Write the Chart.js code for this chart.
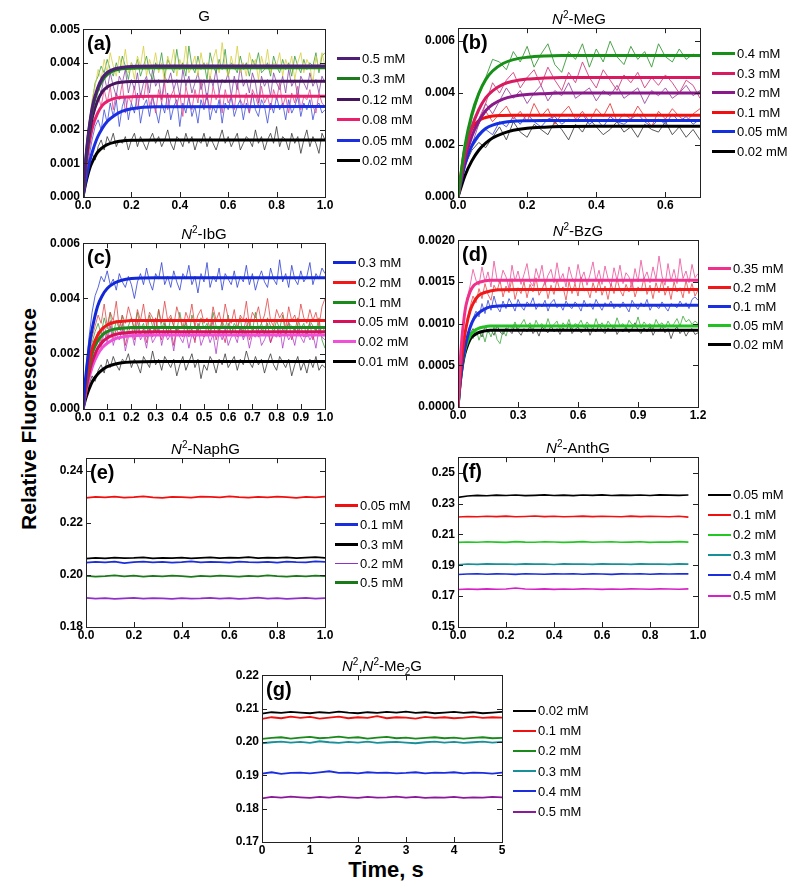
<!DOCTYPE html>
<html>
<head>
<meta charset="utf-8">
<script src="https://cdn.jsdelivr.net/npm/chart.js@4.4.1/dist/chart.umd.min.js"></script>
<style>
body { margin: 0; background: #fff; width: 800px; height: 890px; position: relative; overflow: hidden;
       font-family: "Liberation Sans", Arial, sans-serif; color: #000; }
canvas { position: absolute; }
.ttl { position: absolute; font-size: 15px; line-height: 16px; transform: translateX(-50%); white-space: nowrap; }
.ttl sup { font-size: 10px; }
.ttl sub { font-size: 10px; }
.lbl { position: absolute; font-weight: bold; font-size: 20px; line-height: 20px; }
.row { position: absolute; font-size: 13px; line-height: 16px; height: 16px; white-space: nowrap; }
.row .ln { display: inline-block; width: 23px; vertical-align: middle; margin-right: 2px; margin-top: -2px; }
#ylab { position: absolute; left: 29px; top: 419px; transform: translate(-50%, -50%) rotate(-90deg);
        font-weight: bold; font-size: 21px; white-space: nowrap; }
#xlab { position: absolute; left: 386px; top: 870px; transform: translate(-50%, -50%);
        font-weight: bold; font-size: 22px; white-space: nowrap; }
</style>
</head>
<body>
<div id="ylab">Relative Fluorescence</div>
<div id="xlab">Time, s</div>
<script>
// ==================== DATA (y in 1e-3 units unless noted) ====================
// ---- (a) G ----
const A_LABELS = ['0.5 mM', '0.3 mM', '0.12 mM', '0.08 mM', '0.05 mM', '0.02 mM'];
const A_FIT_T = [0, 0.01, 0.02, 0.03, 0.04, 0.06, 0.08, 0.1, 0.13, 0.16, 0.2, 0.3, 1.0];
const A_FIT_05 = [0, 1.01, 1.76, 2.30, 2.73, 3.24, 3.55, 3.71, 3.82, 3.86, 3.89, 3.9, 3.9];
const A_FIT_03 = [0, 0.95, 1.70, 2.25, 2.66, 3.17, 3.48, 3.65, 3.77, 3.82, 3.84, 3.85, 3.85];
const A_FIT_012 = [0, 0.90, 1.55, 2.04, 2.42, 2.86, 3.14, 3.28, 3.38, 3.42, 3.44, 3.45, 3.45];
const A_FIT_008 = [0, 0.78, 1.35, 1.77, 2.10, 2.49, 2.73, 2.85, 2.94, 2.97, 2.99, 3.0, 3.0];
const A_FIT_005 = [0, 0.45, 0.81, 1.13, 1.38, 1.78, 2.05, 2.25, 2.43, 2.55, 2.63, 2.69, 2.7];
const A_FIT_002 = [0, 0.37, 0.66, 0.90, 1.07, 1.33, 1.47, 1.56, 1.63, 1.67, 1.69, 1.7, 1.7];
const A_RAW_05 = [0, 1.3, 2.2, 2.9, 3.3, 3.8, 3.5, 4.1, 3.7, 4.3, 3.9, 3.6, 4.2, 3.8, 4.4, 3.7, 4.0, 3.5, 4.2, 3.9,
    4.5, 3.6, 4.1, 3.8, 4.3, 3.7, 4.0, 3.4, 4.2, 3.9, 4.4, 3.6, 4.1, 3.8, 4.5, 3.7, 3.9, 4.2, 3.6, 4.3,
    3.8, 4.0, 3.5, 4.1, 4.4, 3.7, 4.6, 3.9, 3.6, 4.2, 3.8, 4.5, 3.7, 4.0, 3.6, 4.3, 3.9, 4.1, 3.5, 4.2,
    3.8, 4.4, 3.7, 4.0, 3.9, 4.3, 3.6, 4.1, 3.8, 4.2, 3.5, 4.0, 4.3, 3.7, 4.1, 3.9, 3.4, 4.2, 3.8, 4.3, 3.9];
const A_RAW_03 = [0, 1.2, 2.1, 2.8, 3.4, 3.6, 3.9, 3.7, 4.1, 3.8, 3.6, 4.0, 3.7, 4.2, 3.9, 3.5, 4.0, 3.8, 4.1, 3.6,
    3.9, 4.2, 3.7, 3.5, 4.0, 3.8, 4.3, 3.6, 4.1, 3.9, 3.7, 4.4, 3.8, 4.0, 3.6, 4.5, 3.9, 3.7, 4.2, 3.8,
    4.0, 3.5, 4.3, 3.9, 3.7, 4.1, 3.8, 4.4, 3.6, 4.0, 3.9, 3.7, 4.2, 3.8, 4.0, 3.6, 4.1, 3.9, 4.3, 3.7,
    3.8, 4.0, 3.6, 4.2, 3.9, 3.7, 4.1, 3.8, 4.0, 3.6, 4.2, 3.9, 3.7, 4.1, 3.8, 4.0, 3.9, 4.3, 3.7, 4.2, 4.3];
const A_RAW_012 = [0, 1.1, 1.9, 2.6, 3.0, 3.3, 3.1, 3.6, 3.2, 3.7, 3.3, 3.0, 3.6, 3.4, 3.8, 3.1, 3.5, 3.2, 3.7, 3.0,
    3.4, 3.6, 3.1, 3.8, 3.3, 3.5, 2.9, 3.6, 3.4, 3.7, 3.2, 3.5, 3.0, 3.8, 3.3, 3.6, 3.1, 3.4, 3.7, 3.2,
    3.5, 2.9, 3.6, 3.3, 3.8, 3.1, 3.5, 3.4, 3.7, 3.0, 3.6, 3.2, 3.9, 3.3, 3.5, 3.1, 3.7, 3.4, 2.8, 3.6,
    3.3, 3.5, 3.0, 3.7, 3.4, 3.2, 3.6, 3.1, 3.8, 3.3, 3.5, 3.0, 3.6, 3.4, 3.2, 3.7, 3.3, 3.5, 3.1, 3.6, 3.4];
const A_RAW_008 = [0, 0.9, 1.7, 2.3, 2.6, 3.0, 2.7, 3.2, 2.8, 3.3, 2.6, 3.1, 2.9, 3.4, 2.5, 3.0, 2.8, 3.3, 2.6, 3.1,
    2.9, 3.5, 2.7, 3.0, 2.5, 3.2, 2.8, 3.4, 2.6, 3.0, 3.2, 2.7, 3.1, 2.4, 3.3, 2.9, 2.6, 3.2, 2.8, 3.5,
    2.7, 3.0, 2.6, 3.3, 2.9, 3.1, 2.5, 3.2, 2.8, 3.0, 2.6, 3.4, 2.9, 2.7, 3.1, 2.5, 3.2, 3.0, 2.7, 3.3,
    2.8, 3.0, 2.6, 3.2, 2.9, 3.4, 2.7, 3.0, 2.5, 3.1, 2.8, 3.3, 2.6, 3.0, 2.9, 3.2, 2.7, 2.5, 3.1, 2.8, 2.7];
const A_RAW_005 = [0, 0.6, 1.2, 1.7, 2.1, 2.3, 2.0, 2.6, 2.2, 2.8, 2.4, 2.9, 2.1, 2.7, 3.0, 2.3, 2.8, 2.5, 3.1, 2.2,
    2.7, 2.9, 2.4, 3.0, 2.6, 2.2, 2.8, 2.5, 3.1, 2.3, 2.7, 2.9, 2.1, 2.8, 2.5, 3.0, 2.4, 2.7, 2.2, 2.9,
    2.6, 3.1, 2.3, 2.7, 2.5, 2.9, 2.2, 2.8, 2.6, 3.0, 2.4, 2.7, 2.9, 2.3, 2.8, 2.5, 3.1, 2.6, 2.4, 2.9,
    2.7, 2.2, 2.8, 2.5, 3.0, 2.6, 2.8, 2.3, 2.9, 2.5, 2.7, 3.0, 2.4, 2.8, 2.6, 2.9, 2.3, 2.7, 2.8, 2.5, 2.6];
const A_RAW_002 = [0, 0.6, 1.0, 1.3, 1.1, 1.5, 1.7, 1.4, 1.8, 1.6, 1.9, 1.5, 1.7, 1.6, 1.8, 1.4, 1.7, 1.9, 1.5, 1.8,
    1.6, 1.4, 1.7, 1.9, 1.6, 1.8, 1.5, 1.7, 2.0, 1.6, 1.4, 1.8, 1.7, 1.5, 1.9, 1.6, 1.8, 1.4, 1.7, 1.6,
    1.9, 1.5, 1.8, 1.6, 1.4, 1.7, 2.0, 1.6, 1.8, 1.5, 1.7, 1.9, 1.4, 1.6, 1.8, 1.7, 1.5, 2.0, 1.6, 1.8,
    1.4, 1.7, 1.9, 1.6, 2.1, 1.5, 1.8, 1.7, 1.4, 1.9, 1.6, 1.8, 1.3, 1.7, 2.0, 1.5, 1.8, 1.6, 1.3, 1.9, 1.7];

// ---- (b) N2-MeG ----
const B_LABELS = ['0.4 mM', '0.3 mM', '0.2 mM', '0.1 mM', '0.05 mM', '0.02 mM'];
const B_FIT_T = [0, 0.02, 0.04, 0.06, 0.08, 0.1, 0.13, 0.16, 0.2, 0.25, 0.3, 0.4, 0.7];
const B_FIT_04 = [0, 1.96, 3.19, 3.98, 4.52, 4.85, 5.14, 5.29, 5.38, 5.43, 5.45, 5.45, 5.45];
const B_FIT_03 = [0, 1.66, 2.69, 3.36, 3.82, 4.09, 4.34, 4.46, 4.54, 4.58, 4.6, 4.6, 4.6];
const B_FIT_02 = [0, 1.44, 2.34, 2.92, 3.32, 3.56, 3.77, 3.88, 3.95, 3.98, 4.0, 4.0, 4.0];
const B_FIT_01 = [0, 1.86, 2.63, 2.94, 3.06, 3.12, 3.14, 3.15, 3.15, 3.15, 3.15, 3.15, 3.15];
const B_FIT_005 = [0, 1.27, 1.98, 2.39, 2.64, 2.77, 2.87, 2.92, 2.94, 2.95, 2.95, 2.95, 2.95];
const B_FIT_002 = [0, 0.82, 1.39, 1.80, 2.07, 2.27, 2.45, 2.57, 2.65, 2.69, 2.71, 2.72, 2.72];
const B_RAW_04 = [0, 1.5, 3.0, 3.9, 4.6, 5.3, 5.2, 4.9, 5.6, 5.2, 5.8, 5.0, 5.5, 5.9, 5.1, 4.8, 5.6, 5.3, 5.9, 5.0, 5.7, 5.2, 6.0, 5.4, 5.1, 5.8, 5.3, 5.6, 5.0, 5.9, 5.4, 5.2, 5.7, 5.3, 5.5, 5.4];
const B_RAW_03 = [0, 1.3, 2.4, 3.0, 3.6, 4.4, 4.0, 4.5, 4.8, 4.2, 4.6, 4.9, 4.3, 5.0, 4.5, 4.1, 4.8, 4.4, 5.2, 4.6, 4.2, 4.9, 4.5, 4.1, 4.7, 4.4, 4.8, 4.2, 4.6, 4.3, 4.7, 4.4, 4.0, 4.5, 4.3, 3.8];
const B_RAW_02 = [0, 1.1, 2.0, 2.8, 3.6, 3.2, 3.7, 4.2, 3.8, 4.1, 3.6, 4.0, 4.3, 3.7, 4.1, 3.9, 4.4, 3.8, 4.0, 4.2, 3.7, 4.1, 3.9, 4.3, 3.8, 4.0, 4.2, 3.6, 4.1, 3.9, 4.2, 3.8, 4.0, 4.3, 3.9, 4.1];
const B_RAW_01 = [0, 1.7, 2.4, 2.8, 3.3, 2.9, 3.2, 3.5, 3.0, 3.3, 2.9, 3.6, 3.1, 3.4, 2.8, 3.2, 3.5, 3.0, 3.3, 2.9, 3.4, 3.1, 3.6, 2.9, 3.2, 3.0, 3.5, 3.1, 2.7, 3.3, 3.0, 3.4, 3.1, 2.9, 3.2, 3.4];
const B_RAW_005 = [0, 1.4, 1.9, 2.3, 2.6, 2.4, 2.9, 2.7, 3.1, 2.8, 3.2, 2.9, 2.7, 3.0, 3.1, 2.8, 3.0, 2.9, 3.2, 2.8, 3.0, 2.7, 3.1, 2.9, 2.8, 3.0, 3.2, 2.9, 2.7, 3.0, 2.8, 3.2, 2.9, 3.1, 2.8, 3.0];
const B_RAW_002 = [0, 1.2, 1.8, 2.1, 1.9, 2.3, 2.7, 2.2, 2.9, 2.5, 2.3, 2.8, 2.6, 2.4, 2.9, 2.6, 2.2, 2.8, 2.5, 3.0, 2.7, 2.4, 2.6, 2.9, 2.5, 2.7, 2.3, 2.8, 2.6, 2.5, 2.9, 2.4, 2.7, 2.3, 2.6, 2.2];

// ---- (c) N2-IbG ----
const C_LABELS = ['0.3 mM', '0.2 mM', '0.1 mM', '0.05 mM', '0.02 mM', '0.01 mM'];
const C_FIT_T = [0, 0.01, 0.02, 0.03, 0.04, 0.06, 0.08, 0.1, 0.13, 0.16, 0.2, 0.3, 1.0];
const C_FIT_03 = [0, 1.05, 1.85, 2.52, 2.99, 3.71, 4.11, 4.36, 4.56, 4.66, 4.72, 4.75, 4.75];
const C_FIT_02 = [0, 0.83, 1.44, 1.89, 2.24, 2.66, 2.91, 3.04, 3.14, 3.17, 3.2, 3.2, 3.2];
const C_FIT_01 = [0, 0.77, 1.33, 1.74, 2.07, 2.45, 2.68, 2.80, 2.89, 2.92, 2.95, 2.95, 2.95];
const C_FIT_005 = [0, 0.62, 1.09, 1.48, 1.76, 2.18, 2.42, 2.57, 2.69, 2.74, 2.78, 2.8, 2.8];
const C_FIT_002 = [0, 0.53, 0.95, 1.29, 1.57, 1.96, 2.22, 2.38, 2.53, 2.60, 2.65, 2.68, 2.68];
const C_FIT_001 = [0, 0.34, 0.61, 0.83, 1.01, 1.26, 1.42, 1.53, 1.62, 1.67, 1.70, 1.72, 1.72];
const C_RAW_03 = [0, 1.5, 2.6, 3.5, 4.1, 4.4, 4.8, 4.6, 5.0, 4.5, 4.7, 4.3, 4.9, 4.6, 4.4, 4.8, 4.5, 4.0, 4.6, 4.9,
    4.5, 5.1, 4.6, 4.3, 4.9, 4.7, 5.3, 4.5, 4.8, 4.4, 5.0, 4.6, 4.3, 4.9, 4.7, 5.2, 4.5, 4.8, 4.2, 4.9,
    4.6, 5.3, 4.4, 4.8, 4.6, 5.1, 4.3, 4.9, 4.7, 4.5, 5.0, 4.4, 4.8, 4.6, 5.2, 4.5, 4.9, 4.3, 4.7, 5.0,
    4.6, 4.4, 5.1, 4.7, 4.5, 5.4, 4.6, 4.9, 4.4, 5.2, 4.7, 4.5, 5.0, 4.6, 4.8, 5.3, 4.5, 4.9, 4.7, 5.1, 4.9];
const C_RAW_02 = [0, 1.1, 2.0, 2.6, 3.0, 3.4, 3.1, 3.8, 3.0, 3.5, 3.2, 3.9, 2.9, 3.4, 3.1, 3.7, 3.3, 2.9, 3.6, 3.2,
    3.8, 3.0, 3.5, 3.3, 2.8, 3.6, 3.1, 3.9, 3.2, 3.4, 3.0, 3.7, 3.3, 2.9, 3.5, 3.2, 3.8, 3.0, 3.4, 3.6,
    3.1, 3.3, 2.9, 3.7, 3.2, 3.5, 3.0, 3.8, 3.3, 3.1, 3.6, 2.9, 3.4, 3.2, 3.9, 3.0, 3.5, 3.3, 3.7, 3.1,
    3.4, 4.0, 3.2, 3.0, 3.6, 3.3, 3.5, 2.9, 3.7, 3.2, 3.4, 3.0, 3.8, 3.3, 3.1, 3.6, 3.2, 3.5, 3.0, 3.7, 4.0];
const C_RAW_01 = [0, 1.0, 1.8, 2.4, 2.8, 3.1, 2.7, 3.3, 2.9, 3.5, 2.7, 3.2, 2.9, 3.4, 2.6, 3.0, 3.3, 2.8, 3.5, 2.9,
    3.1, 2.6, 3.4, 3.0, 2.8, 3.6, 2.9, 3.2, 2.7, 3.3, 3.0, 2.8, 3.5, 2.9, 3.1, 2.6, 3.4, 3.0, 2.8, 3.3,
    2.9, 3.1, 2.7, 3.5, 3.0, 2.8, 3.2, 2.9, 3.4, 2.7, 3.1, 2.9, 3.3, 2.6, 3.0, 3.2, 2.8, 3.5, 2.9, 3.1,
    2.7, 3.3, 3.0, 2.8, 3.2, 2.9, 3.4, 2.7, 3.1, 3.0, 2.8, 3.3, 2.9, 3.1, 2.6, 3.2, 3.0, 2.8, 3.3, 2.5, 2.2];
const C_RAW_005 = [0, 0.8, 1.5, 2.1, 2.5, 2.8, 2.4, 3.0, 2.6, 3.2, 2.5, 2.9, 2.7, 3.1, 2.3, 2.8, 3.0, 2.5, 3.2, 2.7,
    2.9, 2.4, 3.0, 2.6, 3.3, 2.8, 2.5, 3.1, 2.7, 2.9, 2.3, 3.0, 2.8, 2.6, 3.2, 2.7, 2.9, 2.4, 3.1, 2.8,
    2.6, 3.0, 2.7, 3.2, 2.5, 2.9, 2.8, 2.4, 3.1, 2.7, 3.0, 2.6, 2.9, 2.8, 3.3, 2.5, 2.8, 3.0, 2.6, 2.9,
    2.7, 3.1, 2.4, 2.8, 3.0, 2.6, 2.9, 2.7, 3.2, 2.5, 2.9, 2.7, 3.0, 2.6, 2.8, 3.1, 2.5, 2.9, 2.7, 3.0, 2.8];
const C_RAW_002 = [0, 0.7, 1.4, 1.9, 2.3, 2.6, 2.2, 2.8, 2.4, 3.0, 2.3, 2.7, 2.5, 2.9, 2.1, 2.6, 2.8, 2.3, 3.0, 2.5,
    2.7, 2.2, 2.9, 2.4, 2.6, 3.0, 2.3, 2.8, 2.5, 2.7, 2.1, 2.9, 2.6, 2.4, 2.8, 2.2, 2.7, 2.5, 3.0, 2.3,
    2.6, 2.8, 2.4, 2.7, 2.0, 2.8, 2.5, 2.9, 2.3, 2.6, 2.7, 2.4, 3.0, 2.5, 2.8, 2.2, 2.7, 2.6, 2.9, 2.3,
    2.5, 2.8, 2.4, 2.7, 2.6, 3.0, 2.2, 2.8, 2.5, 2.7, 2.3, 2.9, 2.6, 2.4, 2.8, 2.5, 2.7, 2.2, 2.9, 2.6, 2.5];
const C_RAW_001 = [0, 0.5, 0.9, 1.2, 1.0, 1.4, 1.6, 1.3, 1.8, 1.5, 1.9, 1.6, 1.4, 1.8, 1.7, 2.0, 1.5, 1.8, 1.6, 1.3,
    1.9, 1.7, 1.5, 2.1, 1.6, 1.8, 1.4, 1.9, 1.7, 1.5, 1.8, 1.2, 1.6, 1.9, 1.4, 1.7, 2.0, 1.5, 1.8, 1.1,
    1.6, 1.4, 1.9, 1.7, 1.3, 1.8, 1.6, 2.0, 1.5, 1.7, 1.9, 1.4, 1.8, 1.6, 2.1, 1.7, 1.5, 1.9, 1.6, 1.8,
    1.3, 1.7, 2.0, 1.6, 1.4, 1.9, 1.7, 1.5, 1.8, 1.2, 1.6, 1.9, 1.4, 1.7, 1.3, 1.8, 1.5, 1.9, 1.4, 1.6, 1.5];

// ---- (d) N2-BzG (y in 1e-4 units) ----
const D_LABELS = ['0.35 mM', '0.2 mM', '0.1 mM', '0.05 mM', '0.02 mM'];
const D_FIT_T = [0, 0.01, 0.02, 0.03, 0.04, 0.06, 0.08, 0.1, 0.13, 0.16, 0.2, 0.3, 1.2];
const D_FIT_035 = [0, 5.0, 8.4, 10.6, 12.2, 13.8, 14.6, 14.9, 15.1, 15.2, 15.2, 15.2, 15.2];
const D_FIT_02 = [0, 3.4, 6.1, 8.0, 9.5, 11.5, 12.6, 13.3, 13.7, 13.9, 14.05, 14.1, 14.1];
const D_FIT_01 = [0, 2.7, 4.8, 6.5, 7.7, 9.5, 10.6, 11.2, 11.7, 12.0, 12.1, 12.2, 12.2];
const D_FIT_005 = [0, 2.9, 4.9, 6.3, 7.3, 8.5, 9.1, 9.4, 9.6, 9.7, 9.7, 9.7, 9.7];
const D_FIT_002 = [0, 2.7, 4.6, 6.0, 6.9, 8.1, 8.6, 8.9, 9.1, 9.2, 9.2, 9.2, 9.2];
const D_RAW_035 = [0, 6.5, 10.5, 13.0, 14.5, 16.5, 15.2, 14.6, 16.8, 15.0, 16.2, 14.4, 17.5, 15.3, 14.8, 16.4, 15.6, 14.2, 17.0, 15.1,
    16.3, 14.7, 15.9, 17.2, 15.0, 14.5, 16.6, 15.4, 17.0, 14.6, 15.8, 16.5, 14.9, 17.3, 15.2, 16.0, 14.4, 16.8, 15.5, 14.8,
    17.1, 15.3, 16.2, 14.6, 15.9, 17.4, 15.1, 16.4, 14.7, 16.9, 15.4, 14.5, 16.7, 15.2, 17.0, 14.8, 16.1, 15.6, 14.3, 16.6,
    15.0, 17.6, 15.4, 16.2, 14.9, 16.8, 15.3, 18.1, 15.7, 14.6, 17.2, 15.1, 16.5, 14.8, 17.8, 15.4, 16.3, 14.9, 17.1, 15.5, 16.0];
const D_RAW_02 = [0, 4.5, 8.0, 10.5, 12.0, 13.3, 12.5, 14.2, 13.0, 14.8, 13.5, 12.8, 14.6, 13.9, 15.2, 13.2, 14.5, 13.7, 15.4, 12.9,
    14.3, 13.6, 15.0, 13.1, 14.7, 13.8, 15.5, 13.4, 14.1, 15.1, 13.0, 14.6, 13.5, 15.3, 13.9, 14.4, 12.8, 15.0, 13.6, 14.8,
    13.3, 15.6, 13.9, 14.2, 13.1, 14.9, 13.7, 15.2, 13.4, 14.5, 12.9, 14.8, 13.6, 15.4, 14.0, 13.3, 14.7, 13.8, 15.1, 13.2,
    14.4, 13.9, 15.5, 13.5, 14.6, 13.0, 14.9, 13.7, 15.3, 13.4, 14.5, 12.9, 15.0, 13.8, 14.3, 13.1, 15.2, 13.6, 14.8, 13.3, 14.0];
const D_RAW_01 = [0, 4.0, 6.5, 8.5, 9.8, 10.6, 11.5, 10.8, 12.4, 11.2, 12.8, 11.6, 13.3, 12.0, 11.4, 12.7, 11.8, 13.0, 12.3, 11.5,
    12.9, 12.1, 11.6, 12.6, 12.2, 13.1, 11.7, 12.4, 12.0, 12.8, 11.5, 12.5, 12.9, 11.9, 12.3, 11.6, 12.7, 12.1, 11.8, 12.6,
    12.2, 11.5, 12.8, 12.0, 12.4, 11.7, 12.9, 12.2, 11.6, 12.5, 12.1, 12.7, 11.8, 12.3, 11.9, 12.6, 12.0, 11.4, 12.8, 12.2,
    11.7, 12.5, 12.0, 12.9, 11.6, 12.3, 12.1, 11.8, 12.6, 12.0, 11.5, 12.4, 12.2, 11.9, 12.7, 12.1, 12.5, 11.8, 12.9, 13.2, 12.8];
const D_RAW_005 = [0, 4.5, 7.0, 8.4, 9.0, 8.2, 9.4, 8.0, 9.1, 7.8, 9.3, 8.4, 9.6, 8.1, 7.6, 9.2, 8.5, 9.8, 9.4, 10.2,
    9.3, 9.9, 10.5, 9.6, 10.1, 9.2, 10.4, 9.7, 10.0, 9.4, 10.6, 9.5, 9.9, 10.3, 9.2, 10.1, 9.6, 10.5, 9.3, 10.0,
    9.8, 10.4, 9.5, 10.2, 9.7, 9.3, 10.6, 9.6, 10.1, 9.4, 10.3, 9.8, 9.5, 10.7, 9.7, 10.0, 9.4, 10.4, 9.9, 9.6,
    10.8, 9.5, 10.2, 9.7, 10.0, 9.3, 10.5, 9.8, 10.1, 9.5, 10.3, 9.6, 10.0, 10.6, 9.7, 10.9, 10.2, 10.5, 9.9, 10.3, 10.0];
const D_RAW_002 = [0, 4.2, 6.8, 8.2, 8.8, 9.4, 8.6, 9.1, 8.4, 9.7, 8.9, 9.3, 8.6, 9.8, 9.0, 8.7, 9.5, 9.2, 8.8, 9.9,
    9.1, 8.6, 9.4, 9.0, 9.7, 8.8, 9.3, 8.5, 9.6, 9.2, 8.9, 9.8, 9.0, 9.4, 8.7, 9.5, 9.1, 10.0, 8.8, 9.3,
    9.6, 8.9, 9.2, 9.7, 8.6, 9.4, 9.0, 9.9, 9.2, 8.8, 9.5, 9.1, 9.8, 8.7, 9.3, 9.0, 9.6, 8.9, 9.4, 10.1,
    9.2, 8.8, 9.5, 9.0, 9.7, 8.6, 9.3, 9.1, 9.8, 8.9, 9.4, 8.2, 9.2, 9.6, 8.8, 9.3, 8.5, 9.1, 9.4, 8.7, 8.9];

// ---- (e) N2-NaphG ----
const E_LABELS = ['0.05 mM', '0.1 mM', '0.3 mM', '0.2 mM', '0.5 mM'];
const E_RAW_005 = [229.7, 230.1, 229.9, 230.2, 229.8, 230.0, 230.3, 229.9, 229.7, 230.1, 230.0, 229.8, 230.2, 230.1, 229.9, 230.3, 230.0, 229.8, 230.1, 229.9, 230.2, 230.0, 229.7, 230.1, 229.9, 230.2];
const E_RAW_01 = [204.8, 205.1, 204.9, 205.2, 204.6, 205.0, 205.2, 204.9, 205.1, 204.8, 205.0, 205.3, 204.9, 205.1, 205.0, 204.8, 205.2, 205.0, 204.9, 205.1, 204.8, 205.2, 205.0, 204.9, 205.3, 205.1];
const E_RAW_03 = [206.3, 206.6, 206.4, 206.7, 206.5, 206.6, 206.8, 206.4, 206.6, 206.5, 206.7, 206.4, 206.6, 206.8, 206.5, 206.7, 206.6, 206.9, 206.5, 206.7, 206.6, 206.8, 206.5, 206.7, 206.9, 206.6];
const E_RAW_02 = [191.2, 190.9, 191.1, 190.8, 191.0, 191.2, 190.9, 191.1, 191.0, 190.8, 191.1, 190.9, 191.0, 191.2, 190.9, 191.1, 190.8, 191.0, 191.3, 190.9, 191.1, 190.8, 191.0, 191.2, 190.9, 191.1];
const E_RAW_05 = [199.7, 199.4, 199.6, 199.9, 199.5, 199.8, 199.4, 199.7, 199.5, 199.8, 199.6, 199.3, 199.7, 199.5, 199.8, 199.6, 199.4, 199.7, 199.5, 199.9, 199.6, 199.4, 199.7, 199.5, 199.8, 199.6];

// ---- (f) N2-AnthG ----
const F_LABELS = ['0.05 mM', '0.1 mM', '0.2 mM', '0.3 mM', '0.4 mM', '0.5 mM'];
const F_RAW_005 = [234.0, 234.9, 235.3, 235.0, 235.4, 235.2, 235.5, 235.1, 235.3, 235.6, 235.2, 235.4, 235.1, 235.5, 235.3, 235.6, 235.2, 235.4, 235.3, 235.5, 235.2, 235.6, 235.4, 235.3, 235.5];
const F_RAW_01 = [221.3, 221.6, 221.4, 221.7, 221.5, 221.8, 221.4, 221.6, 221.9, 221.5, 221.7, 221.4, 221.6, 221.8, 221.5, 221.7, 221.6, 221.4, 221.8, 221.5, 221.7, 221.6, 221.4, 221.7, 221.2];
const F_RAW_02 = [204.8, 205.1, 204.9, 205.2, 205.0, 204.8, 205.3, 205.0, 204.9, 205.2, 205.1, 204.8, 205.0, 205.3, 204.9, 205.1, 205.2, 204.9, 205.0, 205.2, 204.8, 205.1, 205.0, 205.3, 205.0];
const F_RAW_03 = [190.3, 190.8, 190.6, 190.9, 190.7, 190.8, 190.6, 190.9, 190.7, 190.8, 190.5, 190.9, 190.7, 190.8, 190.6, 190.9, 190.7, 190.8, 190.6, 190.9, 190.7, 190.8, 190.6, 190.9, 190.7];
const F_RAW_04 = [184.0, 184.3, 184.5, 184.2, 184.4, 184.3, 184.1, 184.5, 184.3, 184.2, 184.4, 184.3, 184.5, 184.2, 184.4, 184.3, 184.1, 184.4, 184.3, 184.5, 184.2, 184.4, 184.3, 184.5, 184.4];
const F_RAW_05 = [174.3, 174.6, 174.4, 174.7, 174.5, 174.6, 175.3, 174.6, 174.5, 174.7, 174.4, 174.6, 174.5, 174.7, 174.6, 174.4, 174.6, 174.5, 174.7, 174.6, 174.5, 174.7, 174.6, 174.5, 174.7];

// ---- (g) N2,N2-Me2G ----
const G_LABELS = ['0.02 mM', '0.1 mM', '0.2 mM', '0.3 mM', '0.4 mM', '0.5 mM'];
const G_RAW_002 = [208.5, 208.9, 208.7, 209.0, 208.8, 208.6, 208.9, 208.7, 209.1, 208.8, 208.6, 208.9, 208.7, 209.0, 208.8, 209.1, 208.7, 208.9, 208.6, 208.8, 209.0, 208.7, 208.9, 208.6, 208.8, 209.0];
const G_RAW_01 = [206.9, 207.4, 207.1, 207.6, 207.2, 207.5, 207.0, 207.3, 207.6, 207.1, 207.4, 207.2, 207.7, 207.1, 207.4, 207.3, 207.0, 207.5, 207.2, 207.4, 207.1, 207.3, 207.6, 207.2, 207.4, 207.3];
const G_RAW_02 = [200.9, 201.2, 201.4, 201.0, 201.3, 201.5, 201.1, 201.3, 201.6, 201.2, 201.4, 201.0, 201.3, 201.5, 201.1, 201.3, 201.0, 201.2, 201.4, 201.1, 201.3, 201.0, 201.2, 201.4, 201.1, 201.2];
const G_RAW_03 = [199.6, 199.9, 200.1, 199.8, 200.0, 199.7, 200.2, 199.9, 199.7, 200.0, 199.8, 200.1, 199.7, 199.9, 200.0, 199.8, 199.6, 199.9, 200.1, 199.8, 200.0, 199.7, 199.9, 200.1, 199.8, 200.0];
const G_RAW_04 = [190.5, 190.9, 190.4, 190.7, 190.8, 190.6, 190.9, 191.2, 190.7, 190.8, 190.6, 190.9, 190.7, 190.8, 190.6, 190.7, 190.9, 190.6, 190.8, 190.7, 190.9, 190.6, 190.8, 190.7, 190.5, 190.8];
const G_RAW_05 = [183.1, 183.5, 183.3, 183.6, 183.4, 183.2, 183.5, 183.3, 183.6, 183.4, 183.2, 183.5, 183.3, 183.4, 183.6, 183.3, 183.5, 183.2, 183.4, 183.3, 183.5, 183.2, 183.4, 183.3, 183.5, 183.4];

// ---- tick values ----
const A_XTICKS = [0, 0.2, 0.4, 0.6, 0.8, 1.0];  const A_YTICKS = [0, 1, 2, 3, 4, 5];
const B_XTICKS = [0, 0.2, 0.4, 0.6];            const B_YTICKS = [0, 2, 4, 6];
const C_XTICKS = [0, 0.1, 0.2, 0.3, 0.4, 0.5, 0.6, 0.7, 0.8, 0.9, 1.0]; const C_YTICKS = [0, 2, 4, 6];
const D_XTICKS = [0, 0.3, 0.6, 0.9, 1.2];       const D_YTICKS = [0, 5, 10, 15, 20];
const E_XTICKS = [0, 0.2, 0.4, 0.6, 0.8, 1.0];  const E_YTICKS = [180, 200, 220, 240];
const F_XTICKS = [0, 0.2, 0.4, 0.6, 0.8, 1.0];  const F_YTICKS = [150, 170, 190, 210, 230, 250];
const G_XTICKS = [0, 1, 2, 3, 4, 5];            const G_YTICKS = [170, 180, 190, 200, 210, 220];

// ==================== PANEL CONFIG ====================
const milli3 = v => (v / 1000).toFixed(3);
const milli2 = v => (v / 1000).toFixed(2);
const tenth4 = v => (v / 10000).toFixed(4);
const dec1 = v => v.toFixed(1);

const panels = [
    { id: 'a', title: 'G', box: [83, 29, 325, 197], x: [0, 1], y: [0, 5], xt: A_XTICKS, yt: A_YTICKS, xf: dec1, yf: milli3,
      fitT: A_FIT_T, fits: [A_FIT_05, A_FIT_03, A_FIT_012, A_FIT_008, A_FIT_005, A_FIT_002],
      fitColors: ['#4e1f78', '#1d7a1d', '#46155e', '#e8206e', '#1b2fe0', '#000'],
      raws: [A_RAW_05, A_RAW_03, A_RAW_012, A_RAW_008, A_RAW_005, A_RAW_002], rawEnd: 1.0,
      rawColors: ['#d6cf3c', '#3b9a3b', '#8447a6', '#e2458e', '#3f4fd8', '#3a3a3a'], rawWidth: 0.8,
      labels: A_LABELS, leg: [337, 59, 20.4], legW: 3 },
    { id: 'b', title: '<i>N</i><sup>2</sup>-MeG', box: [458, 28, 700, 197], x: [0, 0.7], y: [0, 6.5], xt: B_XTICKS, yt: B_YTICKS, xf: dec1, yf: milli3,
      fitT: B_FIT_T, fits: [B_FIT_04, B_FIT_03, B_FIT_02, B_FIT_01, B_FIT_005, B_FIT_002],
      fitColors: ['#169016', '#d81b60', '#8a1a8a', '#f01010', '#1230e0', '#000'],
      raws: [B_RAW_04, B_RAW_03, B_RAW_02, B_RAW_01, B_RAW_005, B_RAW_002], rawEnd: 0.7,
      rawColors: ['#3a9a3a', '#d04080', '#9a4aa0', '#e84040', '#4050e0', '#444'], rawWidth: 0.9,
      labels: B_LABELS, leg: [712, 54, 19.6], legW: 3 },
    { id: 'c', title: '<i>N</i><sup>2</sup>-IbG', box: [83, 243, 325, 409], x: [0, 1], y: [0, 6], xt: C_XTICKS, yt: C_YTICKS, xf: dec1, yf: milli3,
      fitT: C_FIT_T, fits: [C_FIT_03, C_FIT_02, C_FIT_01, C_FIT_005, C_FIT_002, C_FIT_001],
      fitColors: ['#1228d8', '#f01818', '#1a8a1a', '#d8105a', '#f050d8', '#000'],
      raws: [C_RAW_03, C_RAW_02, C_RAW_01, C_RAW_005, C_RAW_002, C_RAW_001], rawEnd: 1.0,
      rawColors: ['#3040d0', '#e04848', '#3a9a3a', '#d0306a', '#b040c8', '#3a3a3a'], rawWidth: 0.8,
      labels: C_LABELS, leg: [333, 263, 19.8], legW: 3 },
    { id: 'd', title: '<i>N</i><sup>2</sup>-BzG', box: [458, 240, 698, 407], x: [0, 1.2], y: [0, 20], xt: D_XTICKS, yt: D_YTICKS, xf: dec1, yf: tenth4,
      fitT: D_FIT_T, fits: [D_FIT_035, D_FIT_02, D_FIT_01, D_FIT_005, D_FIT_002],
      fitColors: ['#f0308a', '#f01818', '#1a30e0', '#22c022', '#000'],
      raws: [D_RAW_035, D_RAW_02, D_RAW_01, D_RAW_005, D_RAW_002], rawEnd: 1.2,
      rawColors: ['#e8509a', '#e84848', '#3848d0', '#38a838', '#3a3a3a'], rawWidth: 0.8,
      labels: D_LABELS, leg: [708, 269, 19], legW: 3 },
    { id: 'e', title: '<i>N</i><sup>2</sup>-NaphG', box: [86, 458, 325, 627], x: [0, 1], y: [180, 245], xt: E_XTICKS, yt: E_YTICKS, xf: dec1, yf: milli2,
      raws: [E_RAW_005, E_RAW_01, E_RAW_03, E_RAW_02, E_RAW_05], rawEnd: 1.0,
      rawColors: ['#f01010', '#1a2ee0', '#000', '#9030c8', '#1a7a1a'], rawWidth: 1.8,
      fitColors: ['#f01010', '#1a2ee0', '#000', '#9030c8', '#1a7a1a'], legWs: [3, 3, 3, 1.5, 3],
      labels: E_LABELS, leg: [335, 506, 19.3], legW: 3 },
    { id: 'f', title: '<i>N</i><sup>2</sup>-AnthG', box: [458, 457, 698, 627], x: [0, 1], y: [150, 260], xt: F_XTICKS, yt: F_YTICKS, xf: dec1, yf: milli2,
      raws: [F_RAW_005, F_RAW_01, F_RAW_02, F_RAW_03, F_RAW_04, F_RAW_05], rawEnd: 0.96,
      rawColors: ['#000', '#f01010', '#22c822', '#18909a', '#1a2ee0', '#d820c8'], rawWidth: 1.6,
      fitColors: ['#000', '#f01010', '#22c822', '#18909a', '#1a2ee0', '#d820c8'],
      labels: F_LABELS, leg: [708, 495, 20.2], legW: 2 },
    { id: 'g', title: '<i>N</i><sup>2</sup>,<i>N</i><sup>2</sup>-Me<sub>2</sub>G', box: [262, 675, 502, 842], x: [0, 5], y: [170, 220], xt: G_XTICKS, yt: G_YTICKS, xf: v => v.toFixed(0), yf: milli2,
      raws: [G_RAW_002, G_RAW_01, G_RAW_02, G_RAW_03, G_RAW_04, G_RAW_05], rawEnd: 5,
      rawColors: ['#000', '#f01010', '#1a8a1a', '#18909a', '#1a2ee0', '#8a1a9a'], rawWidth: 1.8,
      fitColors: ['#000', '#f01010', '#1a8a1a', '#18909a', '#1a2ee0', '#8a1a9a'],
      labels: G_LABELS, leg: [513, 711, 20.2], legW: 2 }
];

// ==================== FRAME + INWARD TICKS ====================
const framePlugin = {
    id: 'frame',
    afterDraw(chart) {
        const { ctx, chartArea: a, scales: { x, y } } = chart;
        ctx.save();
        ctx.strokeStyle = '#222';
        ctx.lineWidth = 1;
        ctx.strokeRect(Math.round(a.left) + 0.5, Math.round(a.top) + 0.5, Math.round(a.right - a.left), Math.round(a.bottom - a.top));
        ctx.beginPath();
        x.ticks.forEach(t => {
            const px = Math.round(x.getPixelForValue(t.value)) + 0.5;
            ctx.moveTo(px, a.bottom); ctx.lineTo(px, a.bottom - 5);
            ctx.moveTo(px, a.top); ctx.lineTo(px, a.top + 5);
        });
        y.ticks.forEach(t => {
            const py = Math.round(y.getPixelForValue(t.value)) + 0.5;
            ctx.moveTo(a.left, py); ctx.lineTo(a.left + 5, py);
            ctx.moveTo(a.right, py); ctx.lineTo(a.right - 5, py);
        });
        ctx.stroke();
        ctx.restore();
    }
};

const tickFont = { family: '"Liberation Sans", Arial, sans-serif', size: 12, weight: 'bold' };
const PAD_L = 60, PAD_T = 10, PAD_R = 15, PAD_B = 22;

function buildPanel(p) {
    const [L, T, R, B] = p.box;
    const cv = document.createElement('canvas');
    const W = R - L + PAD_L + PAD_R, H = B - T + PAD_T + PAD_B;
    cv.width = W; cv.height = H;
    cv.style.left = (L - PAD_L) + 'px'; cv.style.top = (T - PAD_T) + 'px';
    cv.style.width = W + 'px'; cv.style.height = H + 'px';
    document.body.appendChild(cv);

    const datasets = [];
    p.raws.forEach((vals, i) => {
        const dt = p.rawEnd / (vals.length - 1);
        datasets.push({
            data: vals.map((v, k) => ({ x: k * dt, y: v })),
            borderColor: p.rawColors[i], borderWidth: p.rawWidth, tension: 0, order: 2
        });
    });
    (p.fits || []).forEach((vals, i) => {
        datasets.push({
            data: p.fitT.map((t, k) => ({ x: t, y: vals[k] })),
            borderColor: p.fitColors[i], borderWidth: 3, cubicInterpolationMode: 'monotone', order: 1
        });
    });

    new Chart(cv, {
        type: 'line',
        data: { datasets },
        options: {
            responsive: false, animation: false, devicePixelRatio: 1,
            layout: { padding: { top: PAD_T, right: PAD_R, left: 0, bottom: 0 } },
            plugins: { legend: { display: false }, tooltip: { enabled: false } },
            elements: { point: { radius: 0 } },
            scales: {
                x: {
                    type: 'linear', min: p.x[0], max: p.x[1],
                    afterFit: s => { s.height = PAD_B; },
                    afterBuildTicks: s => { s.ticks = p.xt.map(v => ({ value: v })); },
                    grid: { display: false, drawTicks: false, tickLength: 0 }, border: { display: false },
                    ticks: { font: tickFont, color: '#000', padding: 1, maxRotation: 0, autoSkip: false, callback: v => p.xf(v) }
                },
                y: {
                    type: 'linear', min: p.y[0], max: p.y[1],
                    afterFit: s => { s.width = PAD_L; },
                    afterBuildTicks: s => { s.ticks = p.yt.map(v => ({ value: v })); },
                    grid: { display: false, drawTicks: false, tickLength: 0 }, border: { display: false },
                    ticks: { font: tickFont, color: '#000', padding: 3, autoSkip: false, callback: v => p.yf(v) }
                }
            }
        },
        plugins: [framePlugin]
    });

    // title
    const t = document.createElement('div');
    t.className = 'ttl';
    t.innerHTML = p.title;
    t.style.left = ((L + R) / 2) + 'px';
    t.style.top = (T - 21) + 'px';
    document.body.appendChild(t);

    // panel letter
    const l = document.createElement('div');
    l.className = 'lbl';
    l.textContent = '(' + p.id + ')';
    l.style.left = (L + 4) + 'px';
    l.style.top = (T + 4) + 'px';
    document.body.appendChild(l);

    // legend
    const [lx, ly, gap] = p.leg;
    p.labels.forEach((txt, i) => {
        const row = document.createElement('div');
        row.className = 'row';
        row.style.left = lx + 'px';
        row.style.top = (ly + i * gap - 8) + 'px';
        const ln = document.createElement('span');
        ln.className = 'ln';
        const w = p.legWs ? p.legWs[i] : p.legW;
        ln.style.height = w + 'px';
        ln.style.background = p.fitColors[i];
        row.appendChild(ln);
        row.appendChild(document.createTextNode(txt));
        document.body.appendChild(row);
    });
}

panels.forEach(buildPanel);
</script>
</body>
</html>
